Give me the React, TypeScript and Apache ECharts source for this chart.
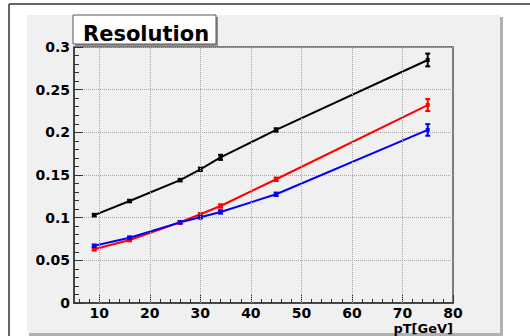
import React, { useEffect, useRef } from "react";
import * as echarts from "echarts";

const ptValues = [9, 16, 26, 30, 34, 45, 75];
const blackRes = [0.103, 0.1195, 0.144, 0.1567, 0.1707, 0.2028, 0.2848];
const blackErr = [0.0015, 0.0015, 0.0015, 0.002, 0.003, 0.002, 0.0075];
const redRes = [0.063, 0.0738, 0.0946, 0.104, 0.1137, 0.145, 0.232];
const redErr = [0.0015, 0.0015, 0.0015, 0.0015, 0.002, 0.002, 0.007];
const blueRes = [0.067, 0.0765, 0.0945, 0.1005, 0.1067, 0.1274, 0.2028];
const blueErr = [0.0015, 0.0015, 0.0015, 0.0015, 0.002, 0.002, 0.0068];

const xMajorTicks = [10, 20, 30, 40, 50, 60, 70, 80];
const xMinorTicks = [6, 8, 12, 14, 16, 18, 22, 24, 26, 28, 32, 34, 36, 38, 42, 44, 46, 48, 52, 54, 56, 58, 62, 64, 66, 68, 72, 74, 76, 78];
const xGridLines = [10, 20, 30, 40, 50, 60, 70];

const FONT = "DejaVu Sans";

function lineSeries(name: string, color: string, ys: number[]) {
  return {
    name,
    type: "line",
    data: ptValues.map((x, i) => [x, ys[i]]),
    symbol: "rect",
    symbolSize: 4,
    lineStyle: { color, width: 2 },
    itemStyle: { color },
    z: 3,
  };
}

function errSeries(color: string, ys: number[], errs: number[]) {
  return {
    type: "custom",
    data: ptValues.map((x, i) => [x, ys[i], errs[i]]),
    z: 4,
    renderItem: (_params: any, api: any) => {
      const x = api.value(0);
      const y = api.value(1);
      const e = api.value(2);
      const lo = api.coord([x, y - e]);
      const hi = api.coord([x, y + e]);
      const style = { stroke: color, lineWidth: 2 };
      return {
        type: "group",
        children: [
          { type: "line", shape: { x1: lo[0], y1: lo[1], x2: hi[0], y2: hi[1] }, style },
          { type: "line", shape: { x1: lo[0] - 2.5, y1: lo[1], x2: lo[0] + 2.5, y2: lo[1] }, style },
          { type: "line", shape: { x1: hi[0] - 2.5, y1: hi[1], x2: hi[0] + 2.5, y2: hi[1] }, style },
        ],
      };
    },
  };
}

export default function App() {
  const ref = useRef<HTMLDivElement>(null);
  useEffect(() => {
    if (!ref.current) return;
    const chart = echarts.init(ref.current, null, { renderer: "svg" });
    const labelStyle = { fontFamily: FONT, fontWeight: "bold", fontSize: 14, color: "#000", lineHeight: 14 };
    chart.setOption({
      animation: false,
      backgroundColor: "#ffffff",
      grid: {
        left: 74,
        top: 47,
        width: 379,
        height: 256,
        show: true,
        backgroundColor: "#f0f0f0",
        borderColor: "#555",
        borderWidth: 1.5,
      },
      xAxis: [
        {
          type: "value",
          min: 5,
          max: 80,
          position: "bottom",
          axisLine: { show: true, lineStyle: { color: "#333", width: 1.5 } },
          axisTick: { show: true, inside: true, length: 8, customValues: xMajorTicks, lineStyle: { color: "#333" } },
          axisLabel: { ...labelStyle, margin: 3, customValues: xMajorTicks },
          splitLine: { show: false },
        },
        {
          type: "value",
          min: 5,
          max: 80,
          position: "bottom",
          axisLine: { show: false },
          axisTick: { show: true, inside: true, length: 4, customValues: xMinorTicks, lineStyle: { color: "#333" } },
          axisLabel: { show: false },
          splitLine: { show: false },
        },
      ],
      yAxis: {
        type: "value",
        min: 0,
        max: 0.3,
        interval: 0.05,
        axisLine: { show: true, lineStyle: { color: "#333", width: 1.5 } },
        axisTick: { show: true, inside: true, length: 9, lineStyle: { color: "#333" } },
        minorTick: { show: true, splitNumber: 5, length: 5, lineStyle: { color: "#333" } },
        axisLabel: { ...labelStyle, margin: 4 },
        splitLine: { show: true, lineStyle: { color: "#a8a8a8", type: "dotted", width: 1 } },
      },
      graphic: [
        { type: "rect", z: -10, shape: { x: 29, y: 17, width: 474, height: 319 }, style: { fill: "#b0b0b0" } },
        { type: "rect", z: -9, shape: { x: 27, y: 15, width: 473, height: 318 }, style: { fill: "#f0f0f0" } },
        { type: "line", z: -8, shape: { x1: 9, y1: 4, x2: 530, y2: 4 }, style: { stroke: "#333", lineWidth: 1.5 } },
        { type: "line", z: -8, shape: { x1: 9, y1: 4, x2: 9, y2: 336 }, style: { stroke: "#333", lineWidth: 1.5 } },
        { type: "rect", z: 50, shape: { x: 75, y: 17, width: 143, height: 29 }, style: { fill: "#909090" } },
        { type: "rect", z: 51, shape: { x: 73, y: 15, width: 143, height: 29 }, style: { fill: "#ffffff", stroke: "#555", lineWidth: 1 } },
        {
          type: "text",
          z: 52,
          x: 83,
          y: 34,
          style: { text: "Resolution", fontFamily: FONT, fontWeight: "bold", fontSize: 21, fill: "#000", verticalAlign: "middle", align: "left" },
        },
        {
          type: "text",
          z: 52,
          x: 453,
          y: 328.5,
          style: { text: "pT[GeV]", fontFamily: FONT, fontWeight: "bold", fontSize: 13, lineHeight: 13, fill: "#000", verticalAlign: "middle", align: "right" },
        },
      ],
      series: [
        {
          type: "line",
          data: [],
          silent: true,
          markLine: {
            silent: true,
            symbol: "none",
            label: { show: false },
            lineStyle: { color: "#a8a8a8", type: "dotted", width: 1 },
            data: xGridLines.map((v) => ({ xAxis: v })),
          },
        },
        lineSeries("black", "#000000", blackRes),
        lineSeries("red", "#ff0000", redRes),
        lineSeries("blue", "#0000ff", blueRes),
        errSeries("#000000", blackRes, blackErr),
        errSeries("#ff0000", redRes, redErr),
        errSeries("#0000ff", blueRes, blueErr),
      ],
    });
    return () => chart.dispose();
  }, []);
  return <div ref={ref} style={{ position: "fixed", left: 0, top: 0, width: 530, height: 336 }} />;
}
